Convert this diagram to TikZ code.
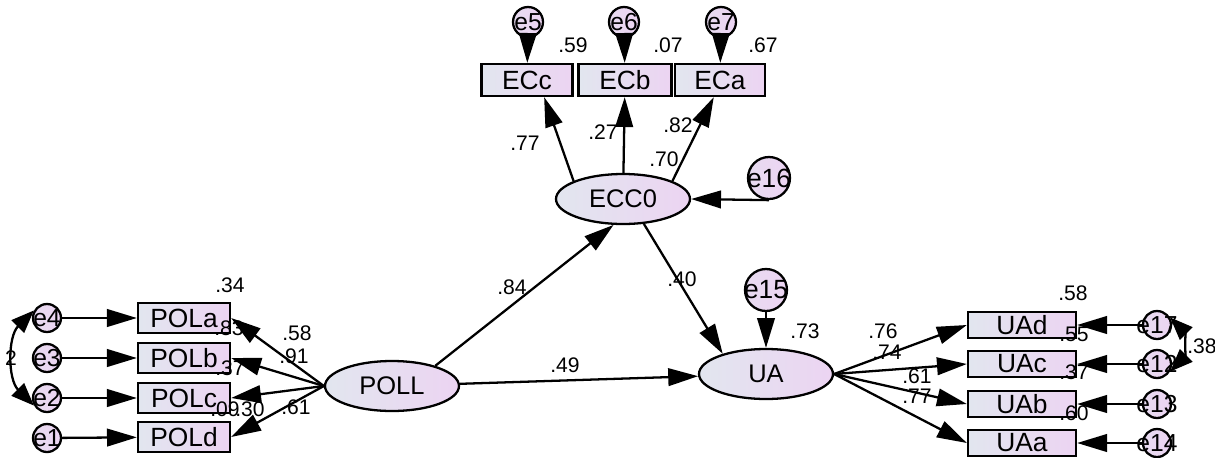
\documentclass[tikz,border=0pt]{standalone}
\usepackage{fontspec}
\setmainfont{Liberation Sans}
\usetikzlibrary{shapes.geometric, arrows.meta}

\definecolor{fillleft}{RGB}{226,230,239}
\definecolor{fillright}{RGB}{236,212,242}

\begin{document}
\begin{tikzpicture}[x=0.02cm, y=-0.02cm]
  \tikzstyle{obs} = [rectangle, draw=black, line width=1.3pt, left color=fillleft, right color=fillright, minimum width=1.84cm, minimum height=0.6cm, inner sep=0pt, font=\fontsize{15}{17}\selectfont]
  \tikzstyle{latent} = [ellipse, draw=black, line width=1.3pt, left color=fillleft, right color=fillright, minimum width=2.68cm, minimum height=1cm, inner sep=0pt, font=\fontsize{14.5}{17}\selectfont]
  \tikzstyle{err} = [circle, draw=black, line width=1.3pt, left color=fillleft!40!fillright, right color=fillright, minimum size=0.56cm, inner sep=0pt, font=\fontsize{14}{16}\selectfont]
  \tikzstyle{coef} = [inner sep=0pt, font=\fontsize{12}{14}\selectfont]
  \tikzstyle{connector} = [line width=1.3pt, -{Triangle[length=17pt, width=10pt]}]
  \tikzstyle{covar} = [line width=1.3pt, {Triangle[length=13pt, width=10pt]}-{Triangle[length=13pt, width=10pt]}]

  \useasboundingbox (0,0) rectangle (1215,457);

  % Latent variables
  \node (ECC0) at (623,199) [latent] {ECC0};
  \node (POLL) at (392,386) [latent] {POLL};
  \node (UA) at (766,374) [latent] {UA};
  \node (e16) at (769,178) [err, minimum size=0.84cm, font=\fontsize{15}{17}\selectfont] {\makebox[0pt]{e16}};
  \node (e15) at (766,290) [err, minimum size=0.84cm, font=\fontsize{15}{17}\selectfont] {\makebox[0pt]{e15}};

  % Top: ECC0 indicators
  \node (ECc) at (527,80) [obs, minimum width=1.82cm, minimum height=0.64cm] {ECc};
  \node (ECb) at (625,80) [obs, minimum width=1.86cm, minimum height=0.64cm] {ECb};
  \node (ECa) at (720,80) [obs, minimum width=1.8cm, minimum height=0.64cm] {ECa};
  \node (e5) at (528,22) [err, minimum size=0.6cm] {\makebox[0pt]{e5}};
  \node (e6) at (624,22) [err, minimum size=0.6cm] {\makebox[0pt]{e6}};
  \node (e7) at (721,22) [err, minimum size=0.6cm] {\makebox[0pt]{e7}};

  % Left: POLL indicators
  \node (POLa) at (184,318) [obs] {POLa};
  \node (POLb) at (184,358) [obs] {POLb};
  \node (POLc) at (184,398) [obs] {POLc};
  \node (POLd) at (184,437) [obs] {POLd};
  \node (e4) at (47,318) [err] {\makebox[0pt]{e4}};
  \node (e3) at (47,358) [err] {\makebox[0pt]{e3}};
  \node (e2) at (47,398) [err] {\makebox[0pt]{e2}};
  \node (e1) at (47,438) [err] {\makebox[0pt]{e1}};

  % Right: UA indicators
  \node (UAd) at (1022,325) [obs, minimum width=2.16cm, minimum height=0.52cm] {UAd};
  \node (UAc) at (1022,364) [obs, minimum width=2.16cm, minimum height=0.52cm] {UAc};
  \node (UAb) at (1022,404) [obs, minimum width=2.16cm, minimum height=0.52cm] {UAb};
  \node (UAa) at (1022,443) [obs, minimum width=2.16cm, minimum height=0.52cm] {UAa};
  \node (e17) at (1157,325) [err] {\makebox[0pt]{e17}};
  \node (e12) at (1157,364) [err] {\makebox[0pt]{e12}};
  \node (e13) at (1157,404) [err] {\makebox[0pt]{e13}};
  \node (e14) at (1157,443) [err] {\makebox[0pt]{e14}};

  % Estimates
  \node (r59) at (573,45) [coef] {.59};
  \node (r07) at (668,45) [coef] {.07};
  \node (r67) at (763,45) [coef] {.67};
  \node (l77) at (525,143) [coef] {.77};
  \node (l27) at (603,132) [coef] {.27};
  \node (l82) at (678,125) [coef] {.82};
  \node (r70) at (664,159) [coef] {.70};
  \node (p84) at (512,287) [coef] {.84};
  \node (p40) at (682,279) [coef] {.40};
  \node (p49) at (565,365) [coef] {.49};
  \node (r73) at (805,331) [coef] {.73};
  \node (r34) at (230,285) [coef] {.34};
  \node (r83) at (229,328) [coef] {.83};
  \node (r37) at (230,368) [coef] {.37};
  \node (r09) at (225,409) [coef] {.09};
  \node (r30) at (250,409) [coef] {.30};
  \node (l58) at (297,333) [coef] {.58};
  \node (l91) at (294,356) [coef] {.91};
  \node (l61) at (296,407) [coef] {.61};
  \node (c2) at (11,358) [coef] {2};
  \node (r58) at (1073,293) [coef] {.58};
  \node (r55) at (1074,334) [coef] {.55};
  \node (r37b) at (1074,372) [coef] {.37};
  \node (r60) at (1074,413) [coef] {.60};
  \node (l76) at (883,331) [coef] {.76};
  \node (l74) at (887,352) [coef] {.74};
  \node (l61b) at (917,376) [coef] {.61};
  \node (l77b) at (917,396) [coef] {.77};
  \node (c38) at (1202,346) [coef] {.38};

  % Structural paths
  \draw[connector] (POLL.25) -- (ECC0.-110);
  \draw[connector] (POLL) -- (UA);
  \draw[connector] (ECC0.-50) -- (UA.155);
  \draw[connector] (e15) -- (UA);
  \draw[connector] (e16.south) -- (ECC0.east);

  % Measurement paths
  \draw[connector] (ECC0.160) -- (ECc.-45);
  \draw[connector] (ECC0) -- (ECb);
  \draw[connector] (ECC0.20) -- (ECa.-110);
  \draw[connector] (e5) -- (ECc);
  \draw[connector] (e6) -- (ECb);
  \draw[connector] (e7) -- (ECa);

  \draw[connector] (POLL.west) -- (POLa.east);
  \draw[connector] (POLL.west) -- (POLb.east);
  \draw[connector] (POLL.west) -- (POLc.east);
  \draw[connector] (POLL.west) -- (POLd.east);
  \draw[connector] (e4) -- (POLa);
  \draw[connector] (e3) -- (POLb);
  \draw[connector] (e2) -- (POLc);
  \draw[connector] (e1) -- (POLd);

  \draw[connector] (UA.east) -- (UAd.west);
  \draw[connector] (UA.east) -- (UAc.west);
  \draw[connector] (UA.east) -- (UAb.west);
  \draw[connector] (UA.east) -- (UAa.west);
  \draw[connector] (e17) -- (UAd);
  \draw[connector] (e12) -- (UAc);
  \draw[connector] (e13) -- (UAb);
  \draw[connector] (e14) -- (UAa);

  % Error covariances
  \draw[covar] (e4.150) to[bend right=45] (e2.-150);
  \draw[covar] (e17.30) to[bend left=45] (e12.-30);
\end{tikzpicture}
\end{document}
